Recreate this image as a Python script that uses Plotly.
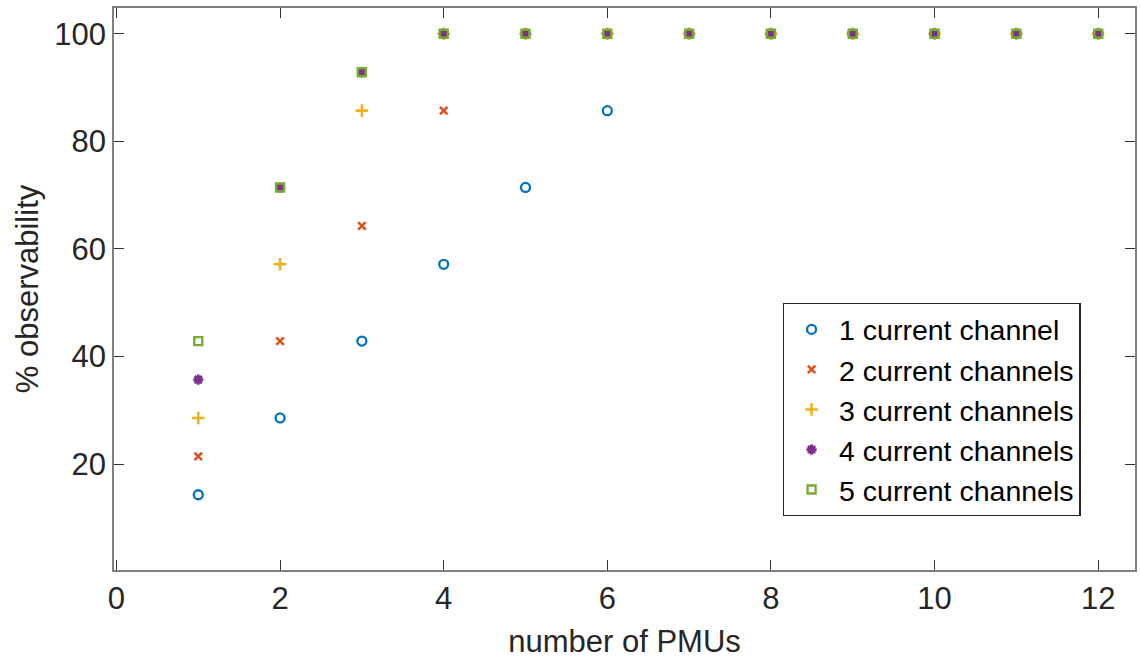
import plotly.graph_objects as go

# Number of PMUs placed
pmus = [1, 2, 3, 4, 5, 6, 7, 8, 9, 10, 11, 12]

# Percentage of observable buses for each number of current channels per PMU
obs_1ch = [14.29, 28.57, 42.86, 57.14, 71.43, 85.71, 100, 100, 100, 100, 100, 100]
obs_2ch = [21.43, 42.86, 64.29, 85.71, 100, 100, 100, 100, 100, 100, 100, 100]
obs_3ch = [28.57, 57.14, 85.71, 100, 100, 100, 100, 100, 100, 100, 100, 100]
obs_4ch = [35.71, 71.43, 92.86, 100, 100, 100, 100, 100, 100, 100, 100, 100]
obs_5ch = [42.86, 71.43, 92.86, 100, 100, 100, 100, 100, 100, 100, 100, 100]

series_names = ["1 current channel", "2 current channels", "3 current channels",
                "4 current channels", "5 current channels"]

x_ticks = [0, 2, 4, 6, 8, 10, 12]
y_ticks = [20, 40, 60, 80, 100]

FONT = "Liberation Sans, Arial, sans-serif"

styles = [
    dict(symbol="circle-open", color="#0072BD", size=9, lw=2.3),
    dict(symbol="x-thin-open", color="#D95319", size=7.5, lw=2.6),
    dict(symbol="cross-thin-open", color="#EDB120", size=9, lw=2.6),
    dict(symbol="asterisk-open", color="#7E2F8E", size=8.5, lw=2.8),
    dict(symbol="square-open", color="#77AC30", size=8, lw=2.4),
]

fig = go.Figure()
for name, ys, st in zip(series_names,
                        [obs_1ch, obs_2ch, obs_3ch, obs_4ch, obs_5ch],
                        styles):
    fig.add_trace(go.Scatter(
        x=pmus, y=ys, mode="markers", name=name,
        marker=dict(symbol=st["symbol"], size=st["size"], color=st["color"],
                    line=dict(color=st["color"], width=st["lw"])),
    ))

axis_common = dict(
    showgrid=False, zeroline=False, showline=True, mirror="ticks",
    linecolor="#808080", linewidth=1.5,
    ticks="inside", ticklen=10, tickwidth=1.3, tickcolor="#333333",
    tickfont=dict(family=FONT, size=31, color="#262626"),
    title_font=dict(family=FONT, size=31, color="#262626"),
)

fig.update_xaxes(range=[-0.03, 12.45], tickvals=x_ticks,
                 title_text="number of PMUs", title_standoff=15, **axis_common)
fig.update_yaxes(range=[0.3, 104.8], tickvals=y_ticks,
                 title_text="% observability", title_standoff=6, **axis_common)

fig.update_layout(
    width=1140, height=663,
    margin=dict(l=114, r=3, t=8, b=93),
    paper_bgcolor="white", plot_bgcolor="white",
    showlegend=True,
    legend=dict(
        x=0.655, y=0.475, xanchor="left", yanchor="top",
        bgcolor="white", bordercolor="#262626", borderwidth=1.3,
        font=dict(family=FONT, size=28.5, color="#000000"),
        itemwidth=45, itemsizing="trace",
    ),
)

fig.write_html("out.html")
